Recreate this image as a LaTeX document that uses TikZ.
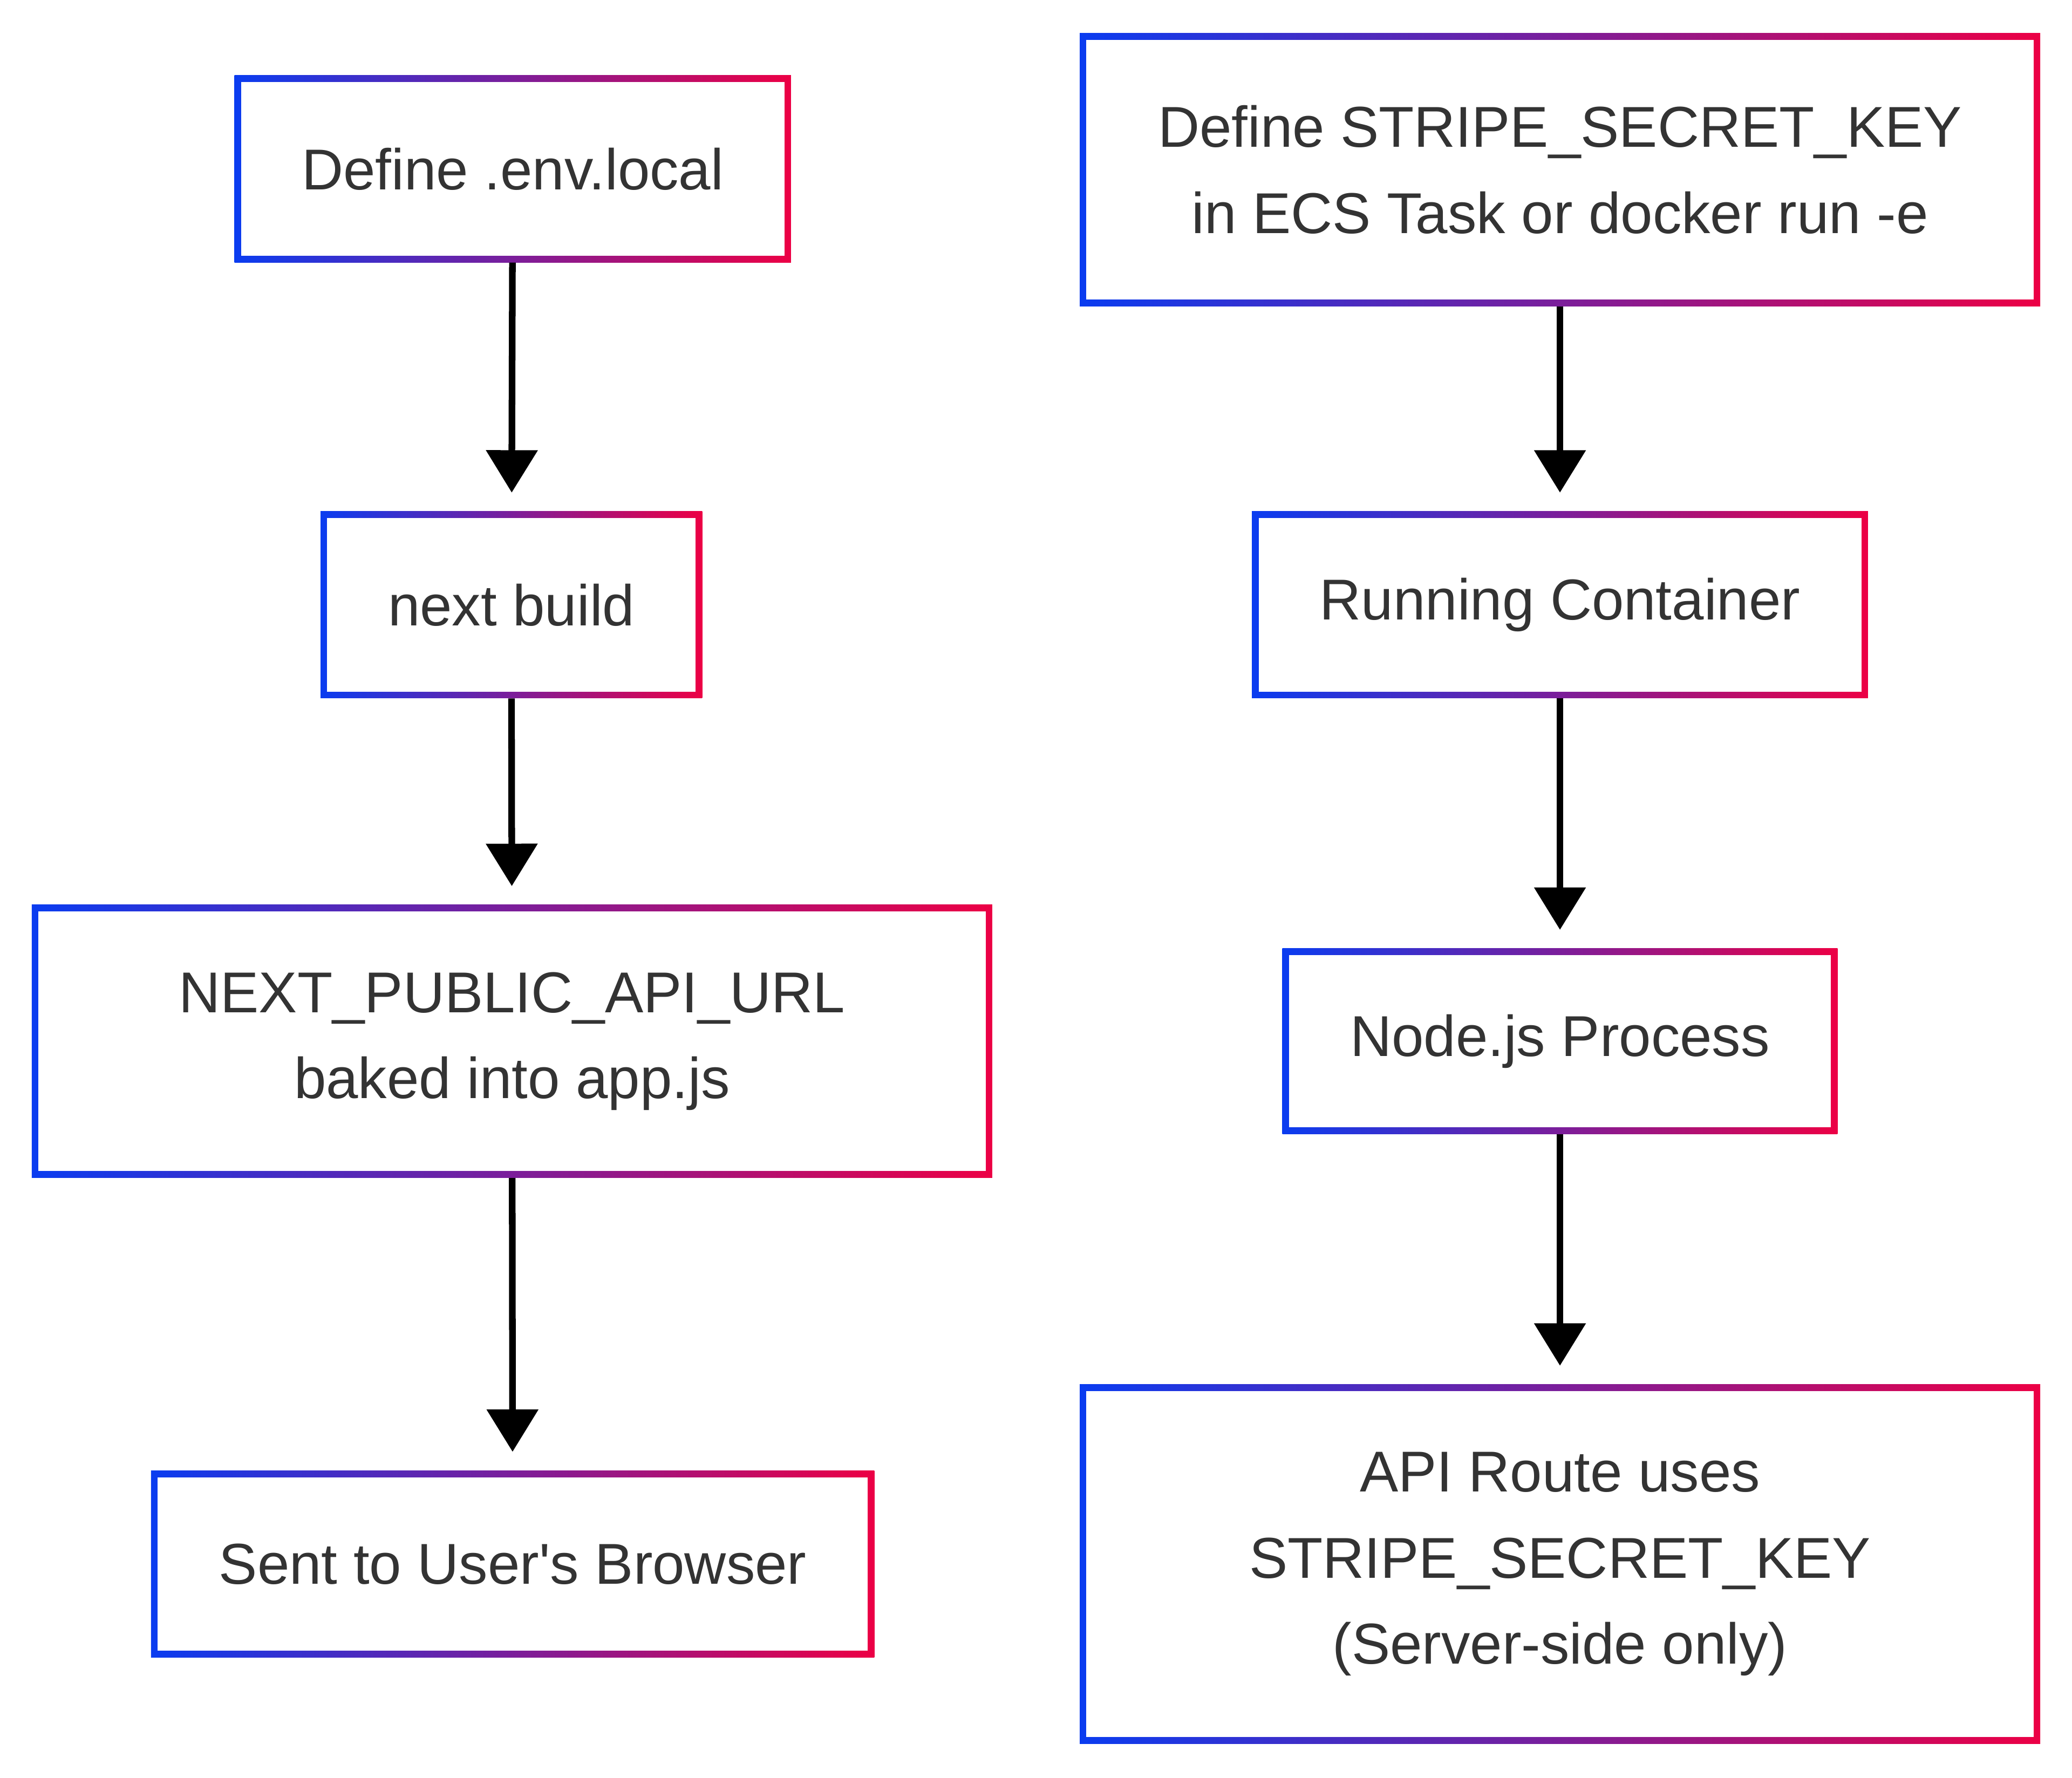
\documentclass[tikz,border=0pt]{standalone}
\usepackage{fontspec}
\newfontfamily\plainfnt{Liberation Sans}
\usetikzlibrary{arrows.meta}
\definecolor{bl}{HTML}{0A3CF0}
\definecolor{rd}{HTML}{EC0045}
\definecolor{tx}{HTML}{333333}
\tikzset{txt/.style={align=center,text=tx,font=\plainfnt\fontsize{43.5}{65}\selectfont,inner sep=0pt},
 conn/.style={line width=5pt,-{Triangle[width=38pt,length=32pt]},shorten >=14pt}}
\newcommand\gbox[6]{%
 \shade[left color=bl,right color=rd] (#2,#3) rectangle (#4,#5);
 \fill[white] (#2+5,#3+5) rectangle (#4-5,#5-5);
 \node[txt,minimum width={(#4-#2)*1pt},minimum height={(#5-#3)*1pt}] (#1) at ({(#2+#4)/2},{(#3+#5)/2}) {#6};}
\begin{document}
\begin{tikzpicture}[x=1pt,y=-1pt]
\useasboundingbox[fill=white] (0,0) rectangle (1564,1342);
\gbox{a}{177}{57}{597}{198}{Define .env.local}
\gbox{b}{242}{386}{530}{527}{next build}
\gbox{c}{24}{683}{749}{889}{NEXT\_PUBLIC\_API\_URL\\baked into app.js}
\gbox{d}{114}{1110}{660}{1251}{Sent to User's Browser}
\gbox{e}{815}{25}{1540}{231}{Define STRIPE\_SECRET\_KEY\\in ECS Task or docker run -e}
\gbox{f}{945}{386}{1410}{527}{Running Container}
\gbox{g}{968}{716}{1387}{856}{Node.js Process}
\gbox{h}{815}{1045}{1540}{1316}{API Route uses\\STRIPE\_SECRET\_KEY\\(Server-side only)}
\draw[conn] (a) -- (b);
\draw[conn] (b) -- (c);
\draw[conn] (c) -- (d);
\draw[conn] (e) -- (f);
\draw[conn] (f) -- (g);
\draw[conn] (g) -- (h);
\end{tikzpicture}
\end{document}
